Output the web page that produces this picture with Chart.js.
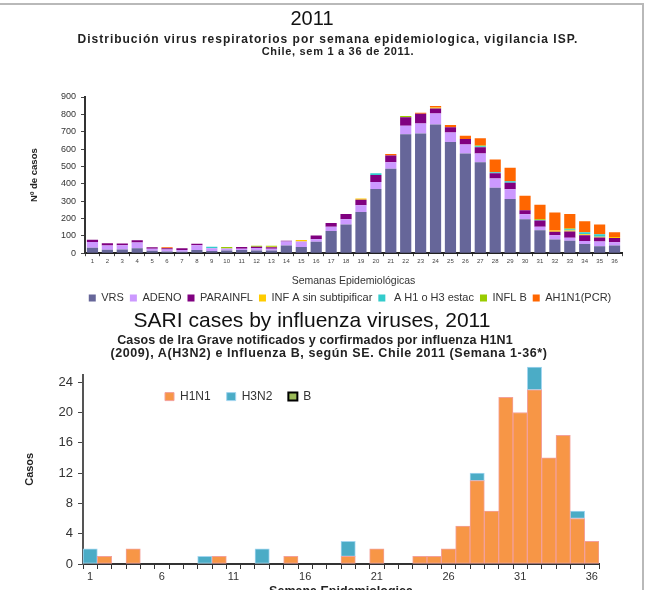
<!DOCTYPE html>
<html>
<head>
<meta charset="utf-8">
<script src="https://cdn.jsdelivr.net/npm/chart.js@4"></script>
<style>
  html, body { margin: 0; padding: 0; background: #fff; }
  body { width: 646px; height: 590px; position: relative; overflow: hidden; font-family: "Liberation Sans", Arial, sans-serif; }
  canvas { position: absolute; left: 0; }
  #virusChart { top: 0; }
  #sariChart { top: 306px; }
  .frame { position: absolute; left: 0; top: 3px; width: 642px; height: 600px; border-top: 2px solid #b9b9b9; border-right: 2px solid #b9b9b9; pointer-events: none; }
  .t { position: absolute; transform: translateX(-50%); white-space: nowrap; color: #111; }
  .big { font-size: 20px; line-height: 24px; }
  .big2 { font-size: 21px; line-height: 25px; }
  .sub { font-size: 12px; line-height: 13px; font-weight: bold; color: #222; }
  .sub2 { font-size: 12.5px; line-height: 13px; font-weight: bold; color: #222; }
</style>
</head>
<body>
<canvas id="virusChart" width="646" height="319"></canvas>
<canvas id="sariChart" width="646" height="297"></canvas>

<div class="t big" style="left:312px; top:6px;">2011</div>
<div class="t sub" style="left:328px; top:33px; letter-spacing:1px;">Distribución virus respiratorios por semana epidemiologica, vigilancia ISP.</div>
<div class="t sub" style="left:338px; top:45px; font-size:11px; letter-spacing:0.7px;">Chile, sem 1 a 36 de 2011.</div>
<div class="t big2" style="left:312px; top:307px;">SARI cases by influenza viruses, 2011</div>
<div class="t sub2" style="left:315px; top:334px; letter-spacing:0.15px;">Casos de Ira Grave notificados y corfirmados por influenza H1N1</div>
<div class="t sub2" style="left:329px; top:347px; letter-spacing:0.6px;">(2009), A(H3N2) e Influenza B, según SE. Chile 2011 (Semana 1-36*)</div>
<div class="frame"></div>

<script>
// semanas epidemiológicas 1 a 36
const weeks = ["1","2","3","4","5","6","7","8","9","10","11","12","13","14","15","16","17","18",
               "19","20","21","22","23","24","25","26","27","28","29","30","31","32","33","34","35","36"];

// gráfico de arriba: virus respiratorios (ISP), casos por semana
const vrs      = [32,20,22,28,14,10,8,18,12,15,18,16,16,44,36,66,128,166,238,370,486,685,689,741,640,575,524,377,313,195,132,79,72,53,40,44];
const adeno    = [33,25,24,33,12,11,11,28,16,12,8,14,10,24,32,14,24,29,39,40,38,50,58,64,55,52,51,53,55,29,21,25,17,17,27,19];
const parainfl = [13,12,10,14,9,7,9,8,0,0,10,7,8,4,0,22,22,31,31,41,39,49,56,29,31,31,35,30,38,24,36,20,36,34,24,24];
const infASin  = [0,0,0,0,0,0,0,0,0,0,0,0,3,0,8,0,0,0,7,0,0,0,0,6,0,0,0,0,0,0,0,7,6,5,4,7];
const aH1H3    = [0,0,0,0,0,0,0,0,9,0,0,0,0,0,0,0,0,0,0,9,0,0,0,0,0,0,6,6,8,0,3,0,7,11,14,0];
const inflB    = [0,0,0,0,0,0,0,0,0,9,0,6,6,0,0,0,0,0,0,0,0,7,0,0,0,0,5,0,0,0,3,0,4,0,0,0];
const ah1n1    = [0,0,0,0,0,7,0,0,0,0,0,0,0,0,0,0,0,0,0,0,8,0,6,8,13,19,41,74,79,83,84,104,84,64,56,27];

// gráfico de abajo: IRA grave confirmados por influenza
const h1n1 = [0,1,0,2,0,0,0,0,0,1,0,0,0,0,1,0,0,0,1,0,2,0,0,1,1,2,5,11,7,22,20,23,14,17,6,3];
const h3n2 = [2,0,0,0,0,0,0,0,1,0,0,0,2,0,0,0,0,0,2,0,0,0,0,0,0,0,0,1,0,0,0,3,0,0,1,0];
const fluB = [0,0,0,0,0,0,0,0,0,0,0,0,0,0,0,0,0,0,0,0,0,0,0,0,0,0,0,0,0,0,0,0,0,0,0,0];

Chart.defaults.font.family = '"Liberation Sans", Arial, sans-serif';
Chart.defaults.color = "#333";

// corre la leyenda después del layout (el original no la tiene centrada)
const legendNudge = {
    id: "legendNudge",
    afterLayout(chart, args, opts) {
        const lg = chart.legend;
        if (!lg) return;
        const dx = opts.dx || 0;
        const dy = opts.dy || 0;
        lg.left += dx; lg.right += dx;
        lg.top += dy; lg.bottom += dy;
    }
};

new Chart(document.getElementById("virusChart"), {
    type: "bar",
    data: {
        labels: weeks,
        datasets: [
            { label: "VRS", data: vrs, backgroundColor: "#666699" },
            { label: "ADENO", data: adeno, backgroundColor: "#CC99FF" },
            { label: "PARAINFL", data: parainfl, backgroundColor: "#800080" },
            { label: "INF A sin subtipificar", data: infASin, backgroundColor: "#FFCC00" },
            { label: " A H1 o H3 estac", data: aH1H3, backgroundColor: "#33CCCC" },
            { label: "INFL B", data: inflB, backgroundColor: "#99CC00" },
            { label: "AH1N1(PCR)", data: ah1n1, backgroundColor: "#FF6600" }
        ]
    },
    options: {
        responsive: false,
        animation: false,
        layout: { padding: { top: 97, right: 24, left: 0, bottom: 0 } },
        datasets: { bar: { barPercentage: 0.75, categoryPercentage: 1, borderWidth: 0 } },
        scales: {
            x: {
                stacked: true,
                grid: { offset: true, drawOnChartArea: false, tickLength: 3, color: "#444" },
                border: { color: "#222", width: 2 },
                ticks: { autoSkip: false, maxRotation: 0, padding: 2, font: { size: 6 }, color: "#444" },
                title: { display: true, text: "Semanas Epidemiológicas", font: { size: 10.5 }, padding: { top: 7.3, bottom: 4.7 }, color: "#333" }
            },
            y: {
                stacked: true,
                min: 0,
                max: 900,
                ticks: { stepSize: 100, font: { size: 9 }, padding: 5, color: "#333" },
                grid: { drawOnChartArea: false, tickLength: 4, color: "#444" },
                border: { color: "#333", width: 2 },
                title: { display: true, text: "Nº de casos", font: { size: 9.5, weight: "bold" }, padding: { top: 29, bottom: 0 }, color: "#222" },
                afterFit(scale) { scale.width = 85; }
            }
        },
        plugins: {
            legend: { position: "bottom", labels: { boxWidth: 7, boxHeight: 7, padding: 6, font: { size: 11 }, color: "#333" } },
            tooltip: { enabled: false },
            legendNudge: { dx: 39, dy: -5.5 }
        }
    },
    plugins: [legendNudge]
});

new Chart(document.getElementById("sariChart"), {
    type: "bar",
    data: {
        labels: weeks,
        datasets: [
            { label: "H1N1", data: h1n1, backgroundColor: "#F79646", borderColor: "#F3A09A", borderWidth: 1 },
            { label: "H3N2", data: h3n2, backgroundColor: "#4BACC6", borderColor: "#A3D6F0", borderWidth: 1, clip: false },
            { label: "B", data: fluB, backgroundColor: "#9BBB59", borderColor: "#000000", borderWidth: 2 }
        ]
    },
    options: {
        responsive: false,
        animation: false,
        layout: { padding: { top: 30.6, right: 47, left: 0, bottom: 0 } },
        datasets: { bar: { barPercentage: 1, categoryPercentage: 1, borderSkipped: false } },
        scales: {
            x: {
                stacked: true,
                grid: { offset: true, drawOnChartArea: false, tickLength: 5, color: "#333" },
                border: { color: "#333", width: 2 },
                ticks: {
                    autoSkip: false, maxRotation: 0, padding: 2, font: { size: 11, lineHeight: 1 }, color: "#333",
                    callback: (value, index) => (index % 5 === 0 ? weeks[index] : "")
                },
                title: { display: true, text: "Semana Epidemiologica", font: { size: 12.5, weight: "bold" }, padding: { top: 0, bottom: 4 }, color: "#222" }
            },
            y: {
                stacked: true,
                min: 0,
                max: 25,
                ticks: { stepSize: 2, includeBounds: false, font: { size: 13 }, padding: 5, color: "#333" },
                grid: { drawOnChartArea: false, tickLength: 5, color: "#444" },
                border: { color: "#555", width: 2 },
                title: { display: true, text: "Casos", font: { size: 11, weight: "bold" }, padding: { top: 23, bottom: 0 }, color: "#222" },
                afterFit(scale) { scale.width = 83; }
            }
        },
        plugins: {
            legend: { position: "top", align: "start", labels: { boxWidth: 9, boxHeight: 8, padding: 16, font: { size: 12 }, color: "#333" } },
            tooltip: { enabled: false },
            legendNudge: { dx: 149, dy: 38 }
        }
    },
    plugins: [legendNudge]
});
</script>
</body>
</html>
